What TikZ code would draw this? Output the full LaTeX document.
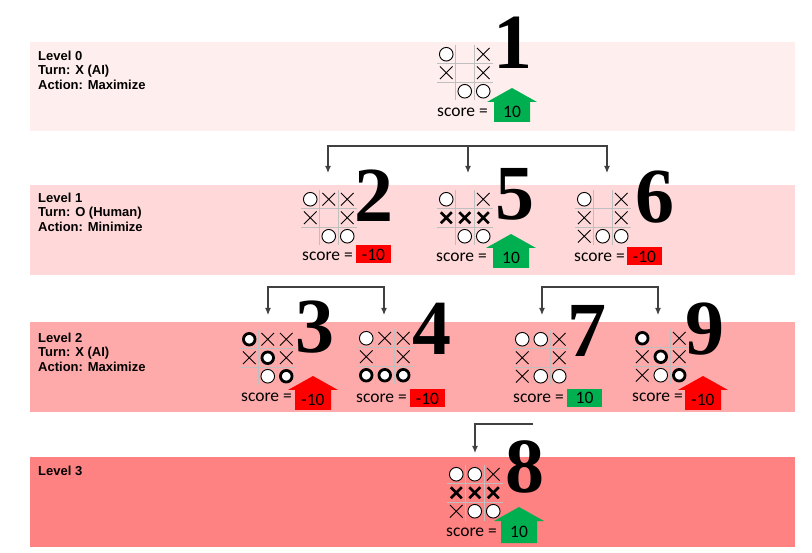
\documentclass[tikz,border=0pt]{standalone}
\usepackage{fontspec}
\setmainfont{Liberation Serif}
\newfontfamily\calibfont{Carlito}
\newfontfamily\arialfont{Liberation Sans}
\usetikzlibrary{arrows.meta}
\definecolor{lvzero}{HTML}{FFEEEE}
\definecolor{lvone}{HTML}{FFD9D9}
\definecolor{lvtwo}{HTML}{FFAAAA}
\definecolor{lvthree}{HTML}{FF8282}
\definecolor{okgreen}{HTML}{00B050}
\definecolor{badred}{HTML}{FF0000}
\definecolor{conncol}{HTML}{404040}
\definecolor{gridcol}{HTML}{BFBFBF}
\newcommand\tttgrid[3]{%
  \begin{scope}[shift={(#2,#3)}]
    \draw[gridline] (18.5,0) -- (18.5,55.5) (37,0) -- (37,55.5) (0,18.5) -- (55.5,18.5) (0,37) -- (55.5,37);
    \foreach \r in {1,2,3}{\foreach \c in {1,2,3}{\coordinate (#1-\r\c) at ({18.5*\c-9.25},{18.5*\r-9.25});}}
  \end{scope}}
\newcommand\mk[2]{\pic at (#1) {#2};}
\newcommand\scorearrow[6]{%
  \fill[#5] ({#2-18},#4) -- ({#2-18},#3) -- ({#2-25},#3) -- (#2,{#3-14}) -- ({#2+25},#3) -- ({#2+18},#3) -- ({#2+18},#4) -- cycle;
  \node[valtext] (#1) at (#2,{(#3+#4)/2}) {#6};}
\begin{document}
\begin{tikzpicture}[x=1pt,y=-1pt,
  gridline/.style={draw=gridcol, line width=0.8pt},
  lvltext/.style={anchor=north west, inner sep=0pt, align=left, font=\arialfont\bfseries\fontsize{13}{14.5}\selectfont},
  bignum/.style={anchor=base west, inner sep=0pt, font=\bfseries\fontsize{78}{78}\selectfont},
  scoretxt/.style={anchor=west, inner sep=0pt, font=\calibfont\fontsize{17.5}{19}\selectfont},
  valtext/.style={inner sep=0pt, font=\calibfont\fontsize{17.5}{19}\selectfont},
  valbox/.style={minimum width=35pt, minimum height=18pt, inner sep=0pt, font=\calibfont\fontsize{17.5}{19}\selectfont},
  connline/.style={draw=conncol, line width=1.1pt},
  conn/.style={connline, -{Latex[length=7pt,width=6pt]}},
  pics/om/.style={code={\draw[line width=0.9pt, fill=white] (0,0) circle (6.8pt);}},
  pics/obm/.style={code={\draw[line width=2.8pt, fill=white] (0,0) circle (5.8pt);}},
  pics/xm/.style={code={\draw[line width=0.9pt] (-6.3pt,-6.3pt) -- (6.3pt,6.3pt) (-6.3pt,6.3pt) -- (6.3pt,-6.3pt);}},
  pics/xbm/.style={code={\draw[line width=2.8pt] (-5.5pt,-5.5pt) -- (5.5pt,5.5pt) (-5.5pt,5.5pt) -- (5.5pt,-5.5pt);}},
]
\useasboundingbox (0,0) rectangle (812,553);
\fill[white] (0,0) rectangle (812,553);
% bands
\fill[lvzero] (30,42) rectangle (795,131);
\fill[lvone] (30,185) rectangle (795,275);
\fill[lvtwo] (30,322) rectangle (795,412);
\fill[lvthree] (30,457) rectangle (795,547);
% level labels
\node[lvltext] (lab0) at (38,50.5) {Level 0\\Turn: X (AI)\\Action: Maximize};
\node[lvltext] (lab1) at (38,192.5) {Level 1\\Turn: O (Human)\\Action: Minimize};
\node[lvltext] (lab2) at (38,332.5) {Level 2\\Turn: X (AI)\\Action: Maximize};
\node[lvltext] (lab3) at (38,465.5) {Level 3};
% ---------- board 1
\tttgrid{b1}{437}{45}
\mk{b1-11}{om}\mk{b1-13}{xm}\mk{b1-21}{xm}\mk{b1-23}{xm}\mk{b1-32}{om}\mk{b1-33}{om}
\node[bignum] (n1) at (493,69) {1};
\node[scoretxt] (s1) at (437,112) {score =};
\scorearrow{v1}{512}{102}{122}{okgreen}{10}
% ---------- board 2
\tttgrid{b2}{301}{190}
\mk{b2-11}{om}\mk{b2-12}{xm}\mk{b2-13}{xm}\mk{b2-21}{xm}\mk{b2-23}{xm}\mk{b2-32}{om}\mk{b2-33}{om}
\node[bignum] (n2) at (354,222) {2};
\node[scoretxt] (s2) at (302,256) {score =};
\node[valbox, fill=badred] (v2) at (373.5,254.5) {-10};
% ---------- board 5
\tttgrid{b5}{437}{190}
\mk{b5-11}{om}\mk{b5-13}{xm}\mk{b5-21}{xbm}\mk{b5-22}{xbm}\mk{b5-23}{xbm}\mk{b5-32}{om}\mk{b5-33}{om}
\node[bignum] (n5) at (495,220) {5};
\node[scoretxt] (s5) at (436,257) {score =};
\scorearrow{v5}{511}{248}{268}{okgreen}{10}
% ---------- board 6
\tttgrid{b6}{575}{190}
\mk{b6-11}{om}\mk{b6-13}{xm}\mk{b6-21}{xm}\mk{b6-23}{xm}\mk{b6-31}{xm}\mk{b6-32}{om}\mk{b6-33}{om}
\node[bignum] (n6) at (635,223) {6};
\node[scoretxt] (s6) at (574,257) {score =};
\node[valbox, fill=badred] (v6) at (644.5,256.5) {-10};
% ---------- board 3
\tttgrid{b3}{240}{330}
\mk{b3-11}{obm}\mk{b3-12}{xm}\mk{b3-13}{xm}\mk{b3-21}{xm}\mk{b3-22}{obm}\mk{b3-23}{xm}\mk{b3-32}{om}\mk{b3-33}{obm}
\node[bignum] (n3) at (295,353) {3};
\node[scoretxt] (s3) at (241,397) {score =};
\scorearrow{v3}{313}{390}{410}{badred}{-10}
% ---------- board 4
\tttgrid{b4}{357}{329}
\mk{b4-11}{om}\mk{b4-12}{xm}\mk{b4-13}{xm}\mk{b4-21}{xm}\mk{b4-23}{xm}\mk{b4-31}{obm}\mk{b4-32}{obm}\mk{b4-33}{obm}
\node[bignum] (n4) at (412,355) {4};
\node[scoretxt] (s4) at (356,398) {score =};
\node[valbox, fill=badred] (v4) at (427.5,398.5) {-10};
% ---------- board 7
\tttgrid{b7}{513}{330}
\mk{b7-11}{om}\mk{b7-12}{om}\mk{b7-13}{xm}\mk{b7-21}{xm}\mk{b7-23}{xm}\mk{b7-31}{xm}\mk{b7-32}{om}\mk{b7-33}{om}
\node[bignum] (n7) at (567,357) {7};
\node[scoretxt] (s7) at (513,398) {score =};
\node[valbox, fill=okgreen] (v7) at (584.5,398) {10};
% ---------- board 9
\tttgrid{b9}{633}{329}
\mk{b9-11}{obm}\mk{b9-13}{xm}\mk{b9-21}{xm}\mk{b9-22}{obm}\mk{b9-23}{xm}\mk{b9-31}{xm}\mk{b9-32}{om}\mk{b9-33}{obm}
\node[bignum] (n9) at (685,355) {9};
\node[scoretxt] (s9) at (632,397) {score =};
\scorearrow{v9}{703}{390}{410}{badred}{-10}
% ---------- board 8
\tttgrid{b8}{447}{465}
\mk{b8-11}{om}\mk{b8-12}{om}\mk{b8-13}{xm}\mk{b8-21}{xbm}\mk{b8-22}{xbm}\mk{b8-23}{xbm}\mk{b8-31}{xm}\mk{b8-32}{om}\mk{b8-33}{om}
\node[bignum] (n8) at (505,493) {8};
\node[scoretxt] (s8) at (446,532) {score =};
\scorearrow{v8}{519}{521}{543}{okgreen}{10}
% ---------- connectors
\coordinate (j0L) at (328,146); \coordinate (j0M) at (468,146); \coordinate (j0R) at (607,146);
\coordinate (t2) at (328,173); \coordinate (t5) at (468,173); \coordinate (t6) at (607,173);
\draw[conn] (j0M) -- (j0L) -- (t2);
\draw[conn] (j0M) -- (j0R) -- (t6);
\draw[conn] (j0M) -- (t5);
\coordinate (j1L) at (268,287); \coordinate (j1R) at (384,287);
\coordinate (t3) at (268,315); \coordinate (t4) at (384,315);
\draw[conn] (j1R) -- (j1L) -- (t3);
\draw[conn] (j1L) -- (j1R) -- (t4);
\coordinate (j2L) at (542,287); \coordinate (j2R) at (658,287);
\coordinate (t7) at (542,315); \coordinate (t9) at (658,315);
\draw[conn] (j2R) -- (j2L) -- (t7);
\draw[conn] (j2L) -- (j2R) -- (t9);
\coordinate (j3R) at (533,424); \coordinate (j3L) at (475,424); \coordinate (t8) at (475,453);
\draw[conn] (j3R) -- (j3L) -- (t8);
\end{tikzpicture}
\end{document}
